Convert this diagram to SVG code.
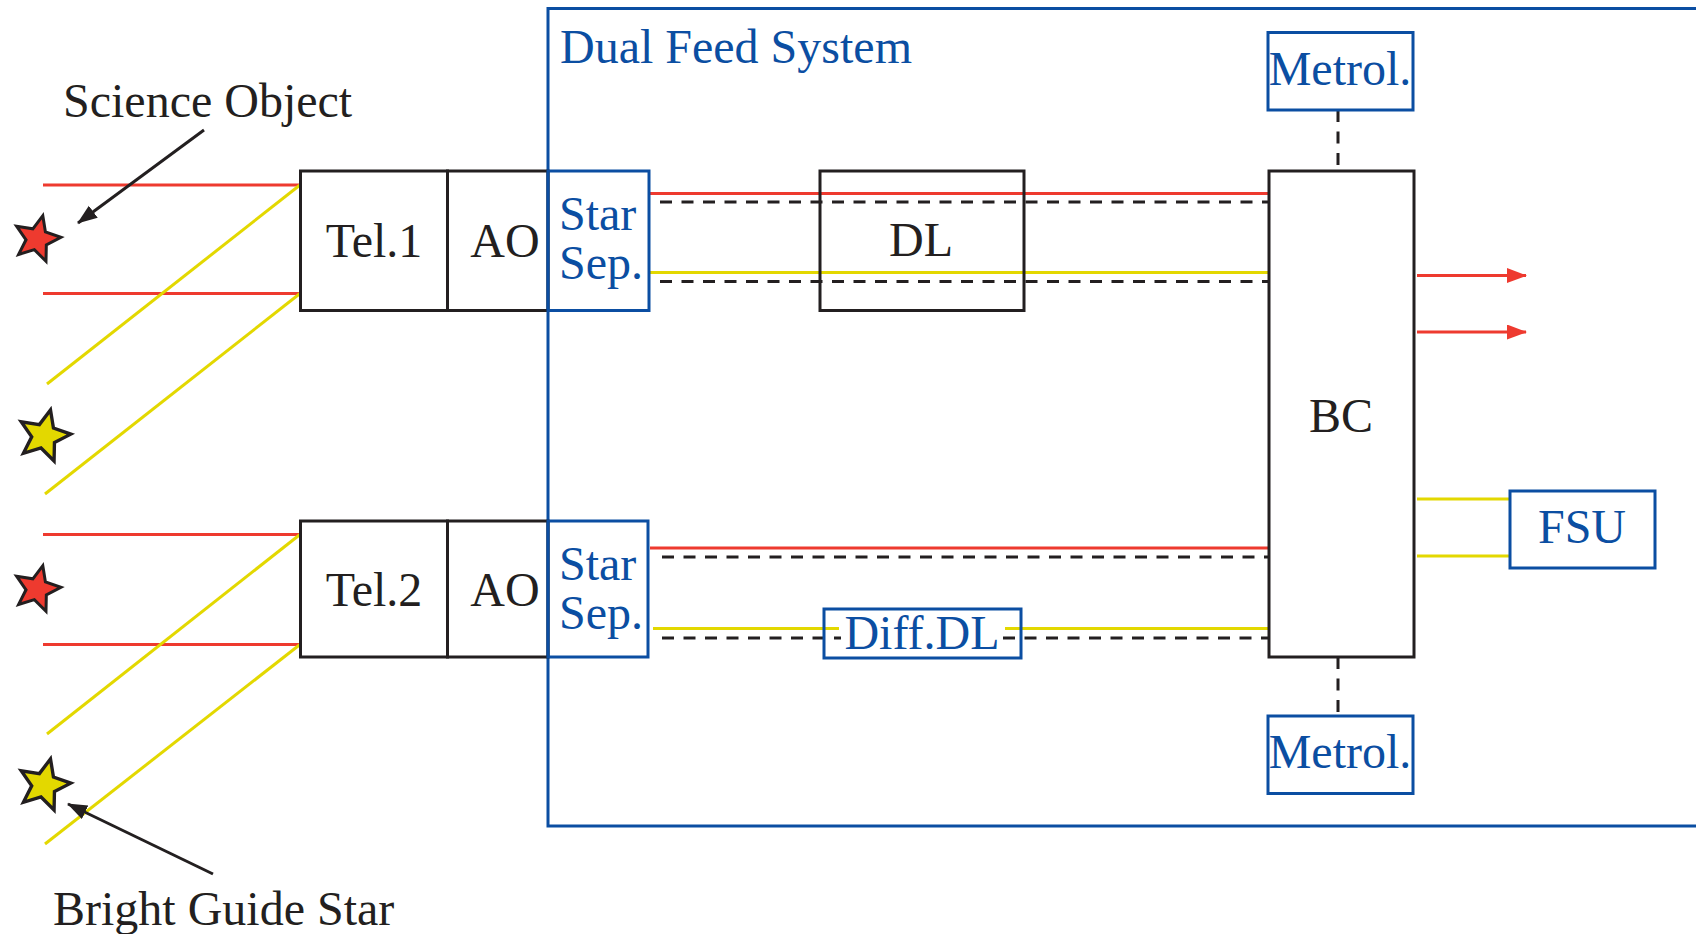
<svg xmlns="http://www.w3.org/2000/svg" width="1696" height="934" viewBox="0 0 1696 934">
<style>
.t{font-family:"Liberation Serif","Times New Roman",serif;font-size:48px;fill:#231f20}
.b{fill:#0b4ea2}
.m{text-anchor:middle}
.box{fill:none;stroke:#231f20;stroke-width:3}
.bbox{fill:none;stroke:#0b4ea2;stroke-width:3}
.red{stroke:#ee3a2f;stroke-width:3;fill:none}
.yel{stroke:#e3d800;stroke-width:3;fill:none}
.dash{stroke:#231f20;stroke-width:3;stroke-dasharray:12 9.5;fill:none}
.arr{stroke:#231f20;stroke-width:3;fill:none}
.star{stroke:#231f20;stroke-width:3;stroke-linejoin:miter}
</style>
<defs>
<path id="star" d="M5.81,-23.29 L8.43,-7.07 L23.94,-1.67 L9.33,5.83 L8.99,22.25 L-2.66,10.67 L-18.38,15.43 L-10.97,0.77 L-20.35,-12.72 L-4.12,-10.2 Z"/>
<marker id="ab" markerUnits="userSpaceOnUse" markerWidth="20" markerHeight="16" refX="19" refY="7.5" orient="auto"><path d="M0,0 L20,7.5 L0,15 Z" fill="#231f20"/></marker>
<marker id="ar" markerUnits="userSpaceOnUse" markerWidth="20" markerHeight="16" refX="19" refY="7.5" orient="auto"><path d="M0,0 L20,7.5 L0,15 Z" fill="#ee3a2f"/></marker>
</defs>
<rect width="1696" height="934" fill="#fff"/>

<g id="dual-feed-system">
<rect class="bbox" x="548" y="8.5" width="1200" height="817.5"/>
<text class="t b" x="560" y="63">Dual Feed System</text>
</g>

<g id="connectors">
<line class="red" x1="43" y1="185" x2="300" y2="185"/>
<line class="red" x1="43" y1="293.5" x2="300" y2="293.5"/>
<line class="red" x1="43" y1="534.5" x2="300" y2="534.5"/>
<line class="red" x1="43" y1="644.5" x2="300" y2="644.5"/>
<line class="yel" x1="300" y1="185" x2="47" y2="384"/>
<line class="yel" x1="300" y1="293.5" x2="45" y2="494"/>
<line class="yel" x1="300" y1="534.5" x2="47" y2="734"/>
<line class="yel" x1="300" y1="644.5" x2="45" y2="844"/>
<line class="red" x1="650" y1="193.5" x2="1269" y2="193.5"/>
<line class="dash" x1="660" y1="202" x2="1269" y2="202"/>
<line class="yel" x1="650" y1="272.5" x2="1269" y2="272.5"/>
<line class="dash" x1="660" y1="281.5" x2="1269" y2="281.5"/>
<line class="red" x1="650" y1="548" x2="1269" y2="548"/>
<line class="dash" x1="662" y1="557" x2="1269" y2="557"/>
<line class="yel" x1="653" y1="628.5" x2="839" y2="628.5"/>
<line class="yel" x1="1005" y1="628.5" x2="1269" y2="628.5"/>
<line class="dash" x1="662" y1="638" x2="841" y2="638"/>
<line class="dash" x1="1003" y1="638" x2="1269" y2="638"/>
<line class="dash" x1="1338" y1="110" x2="1338" y2="171"/>
<line class="dash" x1="1338" y1="657" x2="1338" y2="716"/>
<line class="red" x1="1417" y1="275.5" x2="1526" y2="275.5" marker-end="url(#ar)"/>
<line class="red" x1="1417" y1="332" x2="1526" y2="332" marker-end="url(#ar)"/>
<line class="yel" x1="1417" y1="499" x2="1510" y2="499"/>
<line class="yel" x1="1417" y1="556" x2="1510" y2="556"/>
<line class="arr" x1="204" y1="130" x2="78" y2="223" marker-end="url(#ab)"/>
<line class="arr" x1="213" y1="874" x2="68" y2="804" marker-end="url(#ab)"/>
</g>

<g id="stars">
<use href="#star" class="star" fill="#ee3a2f" transform="translate(37,239)"/>
<use href="#star" class="star" fill="#e3d800" transform="translate(44,436) scale(1.12)"/>
<use href="#star" class="star" fill="#ee3a2f" transform="translate(37,589)"/>
<use href="#star" class="star" fill="#e3d800" transform="translate(44,785) scale(1.12)"/>
</g>

<g id="label-science"><text class="t" x="63" y="117">Science Object</text></g>
<g id="label-guide"><text class="t" x="53" y="925">Bright Guide Star</text></g>

<g id="tel1"><rect class="box" x="300.5" y="171" width="147" height="139.5"/><text class="t m" x="374" y="257">Tel.1</text></g>
<g id="ao1"><rect class="box" x="447.5" y="171" width="100.5" height="139.5"/><text class="t m" x="505" y="257">AO</text></g>
<g id="starsep1"><rect class="bbox" x="548" y="171" width="101" height="139.5"/><text class="t b" x="559" y="230">Star</text><text class="t b" x="559" y="279">Sep.</text></g>

<g id="tel2"><rect class="box" x="300.5" y="521" width="147" height="136"/><text class="t m" x="374" y="605.5">Tel.2</text></g>
<g id="ao2"><rect class="box" x="447.5" y="521" width="100.5" height="136"/><text class="t m" x="505" y="605.5">AO</text></g>
<g id="starsep2"><rect class="bbox" x="548" y="521" width="100" height="136"/><text class="t b" x="559" y="580">Star</text><text class="t b" x="559" y="629">Sep.</text></g>

<g id="dl"><rect class="box" x="820" y="171" width="204" height="139.5"/><text class="t m" x="921" y="256">DL</text></g>
<g id="diffdl"><rect class="bbox" x="824" y="609" width="197" height="49"/><text class="t b m" x="922" y="649">Diff.DL</text></g>

<g id="bc"><rect class="box" x="1269" y="171" width="145" height="486"/><text class="t m" x="1341" y="432">BC</text></g>
<g id="metrol-top"><rect class="bbox" x="1268" y="32.5" width="145" height="77.5"/><text class="t b m" x="1340" y="85">Metrol.</text></g>
<g id="metrol-bottom"><rect class="bbox" x="1268" y="716" width="145" height="77.5"/><text class="t b m" x="1340" y="768">Metrol.</text></g>
<g id="fsu"><rect class="bbox" x="1510" y="491" width="145" height="77"/><text class="t b m" x="1582" y="543">FSU</text></g>
</svg>
